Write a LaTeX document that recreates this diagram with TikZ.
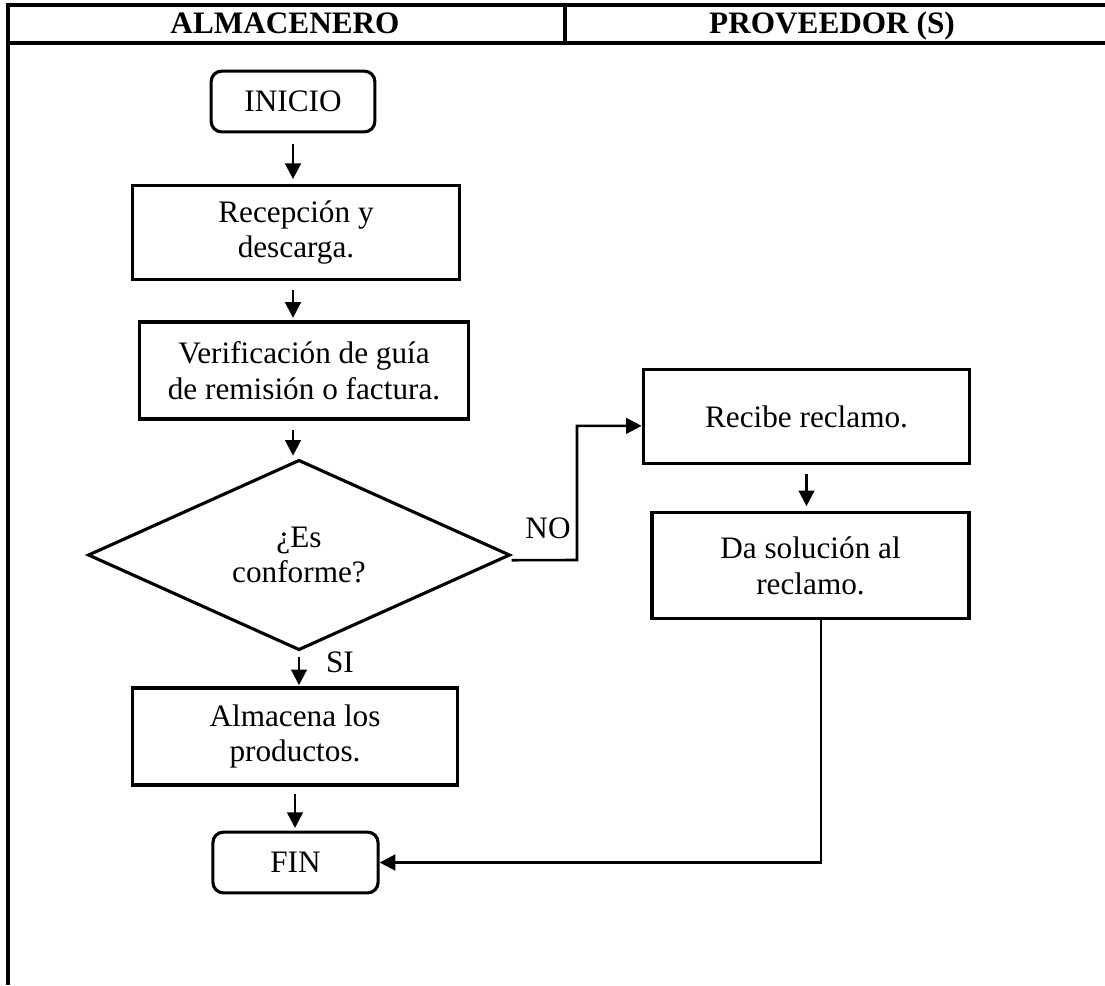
\documentclass[tikz,border=0pt]{standalone}
\usepackage{fontspec}
\setmainfont{Liberation Serif}
\usetikzlibrary{arrows.meta,shapes.geometric}
\tikzset{
  stepbox/.style={draw, line width=1.2pt, align=center, inner sep=2pt,
    font=\fontsize{12}{13.8}\selectfont},
  endbox/.style={stepbox, rounded corners=4pt},
  askbox/.style={draw, diamond, line width=1.2pt, align=center, inner sep=0pt,
    minimum width=5.70cm, minimum height=2.46cm, font=\fontsize{12}{13.8}\selectfont},
  flow/.style={line width=1pt, -{Triangle[length=6pt,width=6pt]}},
  lane/.style={line width=1.2pt},
  head/.style={font=\fontsize{12}{13.8}\selectfont\bfseries, anchor=base, inner sep=0pt},
  lbl/.style={font=\fontsize{12}{13.8}\selectfont, inner sep=0pt}
}
\begin{document}
\begin{tikzpicture}[x=0.0135cm,y=-0.0135cm]
  \useasboundingbox (0,0) rectangle (1105,985);
  % lanes
  \draw[lane] (1105,5) -- (8,5) -- (8,985);
  \draw[lane] (8,43) -- (1105,43);
  \draw[lane] (565,5) -- (565,43);
  \node[head] (hA) at (285,33) {ALMACENERO};
  \node[head] (hP) at (832,33) {PROVEEDOR (S)};
  % almacenero
  \node[endbox, minimum width=2.21cm, minimum height=0.82cm] (ini) at (293,101.5) {INICIO};
  \node[stepbox, minimum width=4.41cm, minimum height=1.26cm] (rec) at (296,232.5) {Recepción y\\descarga.};
  \node[stepbox, minimum width=4.45cm, minimum height=1.31cm] (ver) at (304,370.5) {Verificación de guía\\de remisión o factura.};
  \node[askbox] (dia) at (299,555) {¿Es\\conforme?};
  \node[stepbox, minimum width=4.40cm, minimum height=1.31cm] (alm) at (295,736.5) {Almacena los\\productos.};
  \node[endbox, minimum width=2.23cm, minimum height=0.82cm] (fin) at (295.5,862.5) {FIN};
  % proveedor
  \node[stepbox, minimum width=4.41cm, minimum height=1.26cm] (rcl) at (806.5,416.5) {Recibe reclamo.};
  \node[stepbox, minimum width=4.28cm, minimum height=1.42cm] (sol) at (810.5,565.5) {Da solución al\\reclamo.};
  % arrows
  \draw[flow, shorten <=4pt, shorten >=2pt] (ini.south) -- (ini.south |- rec.north);
  \draw[flow, shorten <=3.5pt, shorten >=1pt] (rec.south -| ini.south) -- (ini.south |- ver.north);
  \draw[flow, shorten <=3.5pt, shorten >=1pt] (ver.south -| ini.south) -- (ini.south |- dia.north);
  \draw[flow, shorten <=2pt, shorten >=0.5pt] (dia.south) -- (dia.south |- alm.north);
  \draw[flow, shorten <=3pt, shorten >=1pt] (alm.south) -- (alm.south |- fin.north);
  \draw[flow, shorten <=3.5pt, shorten >=2pt] (rcl.south) -- (rcl.south |- sol.north);
  \draw[flow] ([yshift=-2pt]dia.east) -- (577,560) |- ([yshift=-3.6pt]rcl.west);
  \draw[flow] ([xshift=4pt]sol.south) |- (fin.east);
  \node[lbl] (no) at (548,528) {NO};
  \node[lbl] (si) at (340,662) {SI};
\end{tikzpicture}
\end{document}
